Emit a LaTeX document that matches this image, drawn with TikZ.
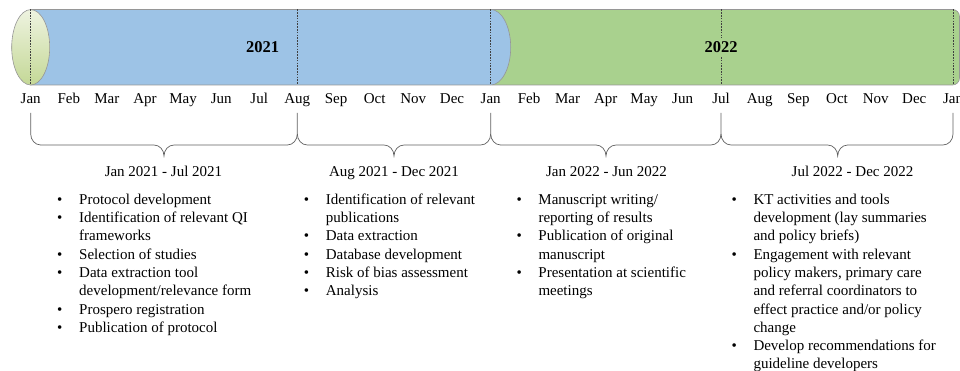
\documentclass[tikz,border=0pt]{standalone}
\usepackage{fontspec}
\setmainfont{Liberation Serif}
\usetikzlibrary{shadings}
\usepackage{xcolor}

\definecolor{barblue}{RGB}{157,195,230}
\definecolor{bargreen}{RGB}{169,209,142}
\definecolor{capdark}{RGB}{196,216,150}
\definecolor{caplight}{RGB}{238,243,224}
\definecolor{edgegray}{RGB}{150,150,150}
\definecolor{bracegray}{RGB}{95,95,95}

\begin{document}
\begin{tikzpicture}[x=1pt,y=-1pt]
					\tikzstyle{month} = [anchor=base,inner sep=0pt,font=\fontsize{15}{18.3}\selectfont]
					\tikzstyle{year} = [inner sep=4pt,font=\fontsize{16.5}{18}\selectfont\bfseries]
					\tikzstyle{period} = [anchor=base,inner sep=0pt,font=\fontsize{15}{18.3}\selectfont]
					\tikzstyle{tasks} = [anchor=north west,inner sep=0pt,font=\fontsize{15}{18.3}\selectfont]
					\tikzstyle{divider} = [draw=black!75,line width=0.6pt,dash pattern=on 1.6pt off 1.2pt]
					\tikzstyle{brace} = [draw=bracegray,line width=0.7pt]
					\useasboundingbox (0,0) rectangle (960,371);
					% the bar
					\draw[fill=bargreen,draw=edgegray,line width=0.6pt,rounded corners=7] (485,9.5) rectangle (959.5,85);
					\draw[fill=barblue,draw=edgegray,line width=0.6pt] (30.7,9.5) -- (490.7,9.5)
						.. controls (501.7,9.5) and (510.7,26.4) .. (510.7,47.3)
						.. controls (510.7,68.2) and (501.7,85) .. (490.7,85) -- (30.7,85) -- cycle;
					\draw[draw=edgegray,line width=0.6pt,top color=caplight,bottom color=capdark] (30.7,47.3) ellipse [x radius=19,y radius=37.7];
					\draw[divider] (30.7,9.5) -- (30.7,85);
					\draw[divider] (297.3,9.5) -- (297.3,85);
					\draw[divider] (490.7,9.5) -- (490.7,85);
					\draw[divider] (721,9.5) -- (721,85);
					\draw[divider] (953,9.5) -- (953,85);
					\node[year] (y1) at (262.7,47.3) {2021};
					\node[year,fill=bargreen] (y2) at (721,47.3) {2022};
					% months
					\node[month] (m0) at (30.7,104) {Jan};
					\node[month] (m1) at (68.8,104) {Feb};
					\node[month] (m2) at (106.9,104) {Mar};
					\node[month] (m3) at (145.0,104) {Apr};
					\node[month] (m4) at (183.1,104) {May};
					\node[month] (m5) at (221.2,104) {Jun};
					\node[month] (m6) at (259.2,104) {Jul};
					\node[month] (m7) at (297.3,104) {Aug};
					\node[month] (m8) at (336.0,104) {Sep};
					\node[month] (m9) at (374.7,104) {Oct};
					\node[month] (m10) at (413.3,104) {Nov};
					\node[month] (m11) at (452.0,104) {Dec};
					\node[month] (m12) at (490.7,104) {Jan};
					\node[month] (m13) at (529.1,104) {Feb};
					\node[month] (m14) at (567.5,104) {Mar};
					\node[month] (m15) at (605.8,104) {Apr};
					\node[month] (m16) at (644.2,104) {May};
					\node[month] (m17) at (682.6,104) {Jun};
					\node[month] (m18) at (721,104) {Jul};
					\node[month] (m19) at (759.7,104) {Aug};
					\node[month] (m20) at (798.3,104) {Sep};
					\node[month] (m21) at (837,104) {Oct};
					\node[month] (m22) at (875.7,104) {Nov};
					\node[month] (m23) at (914.3,104) {Dec};
					\node[month] (m24) at (953,104) {Jan};
					% braces
					\draw[brace] (30.7,113) -- (30.7,134) to[out=-90,in=180] (40.7,145) -- (154,145) to[out=0,in=90] (164,156)
						to[out=90,in=180] (174,145) -- (287.3,145) to[out=0,in=-90] (297.3,134) -- (297.3,113);
					\draw[brace] (297.3,134) to[out=-90,in=180] (307.3,145) -- (384,145) to[out=0,in=90] (394,156)
						to[out=90,in=180] (404,145) -- (480.7,145) to[out=0,in=-90] (490.7,134) -- (490.7,113);
					\draw[brace] (490.7,134) to[out=-90,in=180] (500.7,145) -- (596,145) to[out=0,in=90] (606,156)
						to[out=90,in=180] (616,145) -- (711,145) to[out=0,in=-90] (721,134) -- (721,113);
					\draw[brace] (721,134) to[out=-90,in=180] (731,145) -- (827.7,145) to[out=0,in=90] (837.7,156)
						to[out=90,in=180] (847.7,145) -- (943,145) to[out=0,in=-90] (953,134) -- (953,113);
					% periods
					\node[period] (p1) at (163.5,176.7) {Jan 2021 - Jul 2021};
					\node[period] (p2) at (394,176.7) {Aug 2021 - Dec 2021};
					\node[period] (p3) at (606.5,176.7) {Jan 2022 - Jun 2022};
					\node[period] (p4) at (852.5,176.7) {Jul 2022 - Dec 2022};
					% tasks
					\node[tasks] (t1) at (57,191.2) {\begin{tabular}{@{}p{22pt}@{}l@{}}
						\textbullet & Protocol development\\
						\textbullet & Identification of relevant QI\\
						& frameworks\\
						\textbullet & Selection of studies\\
						\textbullet & Data extraction tool\\
						& development/relevance form\\
						\textbullet & Prospero registration\\
						\textbullet & Publication of protocol
					\end{tabular}};
					\node[tasks] (t2) at (303.7,191.2) {\begin{tabular}{@{}p{22pt}@{}l@{}}
						\textbullet & Identification of relevant\\
						& publications\\
						\textbullet & Data extraction\\
						\textbullet & Database development\\
						\textbullet & Risk of bias assessment\\
						\textbullet & Analysis
					\end{tabular}};
					\node[tasks] (t3) at (516.3,191.2) {\begin{tabular}{@{}p{22pt}@{}l@{}}
						\textbullet & Manuscript writing/\\
						& reporting of results\\
						\textbullet & Publication of original\\
						& manuscript\\
						\textbullet & Presentation at scientific\\
						& meetings
					\end{tabular}};
					\node[tasks] (t4) at (731.3,191.2) {\begin{tabular}{@{}p{22pt}@{}l@{}}
						\textbullet & KT activities and tools\\
						& development (lay summaries\\
						& and policy briefs)\\
						\textbullet & Engagement with relevant\\
						& policy makers, primary care\\
						& and referral coordinators to\\
						& effect practice and/or policy\\
						& change\\
						\textbullet & Develop recommendations for\\
						& guideline developers
					\end{tabular}};
\end{tikzpicture}
\end{document}
